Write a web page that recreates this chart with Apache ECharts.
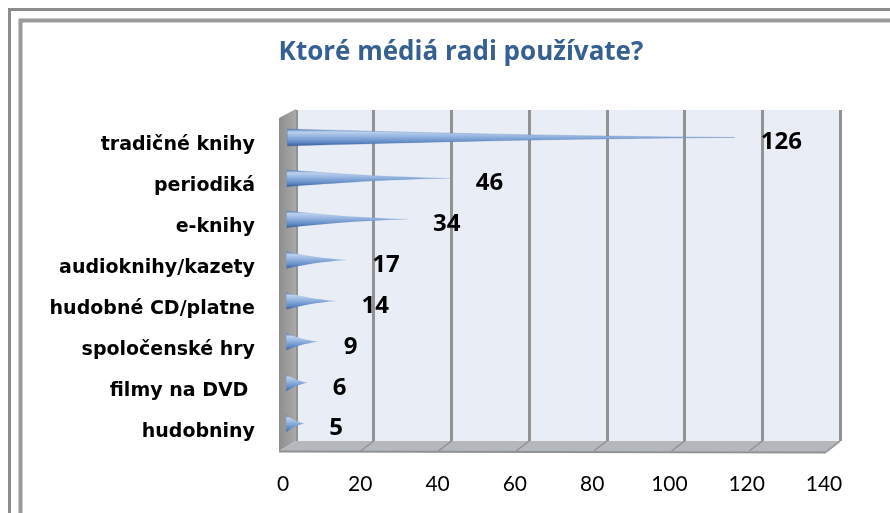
<!DOCTYPE html>
<html>
<head>
<meta charset="utf-8">
<script src="https://cdn.jsdelivr.net/npm/echarts@6/dist/echarts.min.js"></script>
<style>
  html, body { margin: 0; padding: 0; background: #fff; }
  #main { width: 890px; height: 513px; }
</style>
</head>
<body>
<div id="main"></div>
<script>
// data
var categories = ['tradičné knihy', 'periodiká', 'e-knihy', 'audioknihy/kazety',
                  'hudobné CD/platne', 'spoločenské hry', 'filmy na DVD ', 'hudobniny'];
var values = [126, 46, 34, 17, 14, 9, 6, 5];
var axisMax = 140;
var axisStep = 20;

var font = '"Open Sans", Lato, sans-serif';

// cone look
var coneFill = new echarts.graphic.LinearGradient(0, 0, 0, 1, [
    { offset: 0, color: '#4e77b4' },
    { offset: 0.18, color: '#bcd1ee' },
    { offset: 0.45, color: '#93b3e0' },
    { offset: 0.8, color: '#5f88c3' },
    { offset: 1, color: '#345d99' }
]);

var option = {
    backgroundColor: '#fff',
    animation: false,
    title: {
        text: 'Ktoré médiá radi používate?',
        left: 456,
        top: 35,
        textAlign: 'center',
        textStyle: {
            color: '#376092',
            fontFamily: font,
            fontWeight: 'bold',
            fontSize: 26
        }
    },
    grid: [
        // back wall
        { left: 296, right: 50, top: 110, bottom: 72, show: true,
          backgroundColor: '#e9edf5', borderWidth: 0, containLabel: false },
        // cones
        { left: 286, right: 107, top: 117, bottom: 69, containLabel: false },
        // front axis labels
        { left: 283, right: 66, top: 117, bottom: 62, containLabel: false }
    ],
    xAxis: [
        {
            gridIndex: 0, type: 'value', min: 0, max: axisMax, interval: axisStep,
            axisLine: { show: false }, axisTick: { show: false }, axisLabel: { show: false },
            splitLine: { show: true, lineStyle: { color: '#929292', width: 3 } }
        },
        {
            gridIndex: 1, type: 'value', min: 0, max: axisMax, show: false
        },
        {
            gridIndex: 2, type: 'value', min: 0, max: axisMax, interval: axisStep,
            axisLine: { show: false }, axisTick: { show: false },
            splitLine: { show: false },
            axisLabel: { margin: 23, color: '#000', fontFamily: 'Lato, sans-serif', fontSize: 21 }
        }
    ],
    yAxis: [
        { gridIndex: 0, type: 'value', show: false },
        {
            gridIndex: 1, type: 'category', data: categories, inverse: true,
            axisLine: { show: false }, axisTick: { show: false },
            axisLabel: {
                margin: 31, color: '#000', fontFamily: '"DejaVu Sans", sans-serif', fontWeight: 'bold',
                fontSize: 19, verticalAlign: 'top', lineHeight: 16
            }
        },
        { gridIndex: 2, type: 'value', show: false }
    ],
    graphic: {
        elements: [
            // outer frame
            { type: 'rect', z: 1, shape: { x: 9.5, y: 9.5, width: 900, height: 520 },
              style: { fill: null, stroke: '#8c8c8c', lineWidth: 3 } },
            { type: 'rect', z: 1, shape: { x: 20.5, y: 20.5, width: 900, height: 520 },
              style: { fill: null, stroke: '#9a9a9a', lineWidth: 4 } },
            // left wall
            { type: 'polygon', z: 1, shape: { points: [[279, 118], [296, 109], [296, 441], [279, 451]] },
              style: { fill: new echarts.graphic.LinearGradient(0, 0, 1, 0, [
                  { offset: 0, color: '#8e8e8e' }, { offset: 1, color: '#a9a9a9' }]) } },
            // floor
            { type: 'polygon', z: 1, shape: { points: [[279, 451], [296, 441], [840, 441], [826, 452]] },
              style: { fill: '#b4b7bc' } },
            { type: 'line', z: 1, shape: { x1: 279, y1: 451.5, x2: 826, y2: 452.5 },
              style: { stroke: '#8f9194', lineWidth: 2 } },
            { type: 'line', z: 1, shape: { x1: 840, y1: 441, x2: 826, y2: 452 },
              style: { stroke: '#9d9d9d', lineWidth: 2 } }
        ]
    },
    series: [{
        type: 'pictorialBar',
        xAxisIndex: 1,
        yAxisIndex: 1,
        z: 5,
        data: values,
        symbol: 'path://M0,0 C30,22 60,42 100,50 C60,58 30,78 0,100 Z',
        symbolSize: ['100%', 17],
        symbolRepeat: false,
        itemStyle: { color: coneFill, borderColor: '#4a72ad', borderWidth: 0.5 },
        label: {
            show: true,
            position: 'right',
            distance: 25,
            offset: [0, 5],
            color: '#000',
            fontFamily: font,
            fontWeight: 'bold',
            fontSize: 24
        }
    }]
};

var chart = echarts.init(document.getElementById('main'));
chart.setOption(option);

// diagonal floor lines under each back-wall gridline
var floorLines = [];
for (var v = axisStep; v < axisMax; v += axisStep) {
    var px = chart.convertToPixel({ xAxisIndex: 0 }, v);
    floorLines.push({ type: 'line', z: 1, shape: { x1: px, y1: 441, x2: px - 13, y2: 451 },
                      style: { stroke: '#8f9194', lineWidth: 1.5 } });
}
option.graphic.elements = option.graphic.elements.concat(floorLines);
chart.setOption({ graphic: option.graphic });
</script>
</body>
</html>
